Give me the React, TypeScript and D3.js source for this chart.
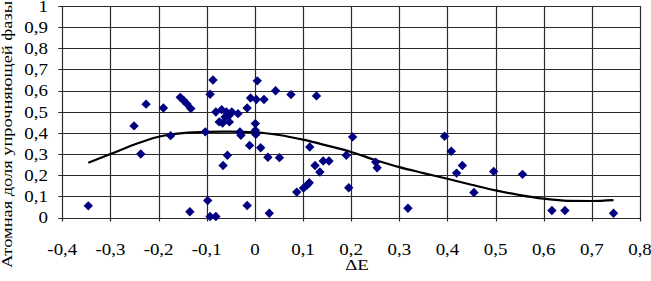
import React from "react";
import * as d3 from "d3";

const deltaE = [
  -0.346, -0.251, -0.237, -0.226, -0.19, -0.175, -0.155, -0.148, -0.141, -0.133,
  -0.135, -0.103, -0.098, -0.093, -0.081, -0.087, -0.093, -0.081, -0.069, -0.074,
  -0.067, -0.059, -0.053, -0.053, -0.062, -0.048, -0.035, -0.057, -0.066, -0.029,
  -0.031, -0.016, -0.009, 0.005, 0.003, 0.019, 0.001, 0.001, 0.002, -0.011,
  0.012, 0.027, 0.051, -0.016, 0.03, 0.043, 0.075, 0.128, 0.087, 0.101,
  0.108, 0.113, 0.114, 0.125, 0.135, 0.142, 0.154, 0.203, 0.19, 0.195,
  0.251, 0.254, 0.318, 0.394, 0.408, 0.431, 0.419, 0.455, 0.496, 0.556,
  0.617, 0.644, 0.745,
];
const fraction = [
  0.055, 0.433, 0.3, 0.536, 0.518, 0.387, 0.568, 0.553, 0.537, 0.515,
  0.027, 0.405, 0.08, 0.005, 0.005, 0.65, 0.583, 0.499, 0.51, 0.452,
  0.447, 0.499, 0.483, 0.452, 0.475, 0.499, 0.491, 0.294, 0.246, 0.389,
  0.404, 0.518, 0.565, 0.646, 0.558, 0.558, 0.444, 0.412, 0.393, 0.341,
  0.33, 0.285, 0.283, 0.057, 0.02, 0.599, 0.581, 0.575, 0.12, 0.139,
  0.152, 0.164, 0.333, 0.246, 0.215, 0.267, 0.267, 0.381, 0.294, 0.141,
  0.262, 0.235, 0.044, 0.384, 0.313, 0.246, 0.21, 0.118, 0.218, 0.204,
  0.033, 0.033, 0.02,
];

const trendX = [
  -0.346, -0.3, -0.25, -0.2, -0.15, -0.1, -0.05, 0, 0.05, 0.1, 0.15, 0.2,
  0.25, 0.3, 0.35, 0.4, 0.45, 0.5, 0.55, 0.6, 0.65, 0.7, 0.745,
];
const trendY = [
  0.259, 0.3, 0.345, 0.382, 0.399, 0.405, 0.406, 0.403, 0.39, 0.368, 0.34, 0.31,
  0.272, 0.238, 0.21, 0.183, 0.155, 0.128, 0.106, 0.089, 0.079, 0.078, 0.082,
];

const xTicks = [-0.4, -0.3, -0.2, -0.1, 0, 0.1, 0.2, 0.3, 0.4, 0.5, 0.6, 0.7, 0.8];
const xTickLabels = ["-0,4", "-0,3", "-0,2", "-0,1", "0", "0,1", "0,2", "0,3", "0,4", "0,5", "0,6", "0,7", "0,8"];
const yTicks = [0, 0.1, 0.2, 0.3, 0.4, 0.5, 0.6, 0.7, 0.8, 0.9, 1];
const yTickLabels = ["0", "0,1", "0,2", "0,3", "0,4", "0,5", "0,6", "0,7", "0,8", "0,9", "1"];

const xTitle = "ΔE";
const yTitle = "Атомная доля упрочняющей фазы";

export default function App() {
  const W = 651;
  const H = 281;
  const x = d3.scaleLinear().domain([-0.4, 0.8]).range([62.3, 640]);
  const y = d3.scaleLinear().domain([0, 1]).range([217.5, 6]);
  const font = '"Liberation Serif", "Times New Roman", Times, serif';

  const trendPts: [number, number][] = trendX.map((v, i) => [v, trendY[i]]);
  const line = d3
    .line<[number, number]>()
    .x((d) => x(d[0]))
    .y((d) => y(d[1]))
    .curve(d3.curveMonotoneX);

  const diamond = (cx: number, cy: number, r: number) =>
    `M${cx},${cy - r}L${cx + r},${cy}L${cx},${cy + r}L${cx - r},${cy}Z`;

  const [x0, x1] = x.range();
  const [y0, y1] = y.range();
  const ts = { fontFamily: font };

  return (
    <svg
      width={W}
      height={H}
      style={{ position: "absolute", left: 0, top: 0, background: "#fff", fontFamily: font }}
    >
      <rect x={0} y={0} width={W} height={H} fill="#fff" />
      {yTicks.map((t) => (
        <line
          key={"h" + t}
          x1={x0 - 4}
          x2={x1}
          y1={Math.round(y(t)) + 0.5}
          y2={Math.round(y(t)) + 0.5}
          stroke="#2a2a2a"
          strokeWidth={1.2}
        />
      ))}
      {xTicks.map((t) => (
        <line
          key={"v" + t}
          x1={Math.round(x(t)) + 0.5}
          x2={Math.round(x(t)) + 0.5}
          y1={y1}
          y2={y0 + 4}
          stroke="#2a2a2a"
          strokeWidth={1.2}
        />
      ))}
      {yTicks.map((t, i) => (
        <g key={"yl" + t} transform={`translate(48,${y(t) + 5.8}) scale(1.15,1)`}>
          <text textAnchor="end" fontSize={16.5} fill="#000" style={ts}>
            {yTickLabels[i]}
          </text>
        </g>
      ))}
      {xTicks.map((t, i) => (
        <g key={"xl" + t} transform={`translate(${x(t)},254.5) scale(1.08,1)`}>
          <text textAnchor="middle" fontSize={17.5} fill="#000" style={ts}>
            {xTickLabels[i]}
          </text>
        </g>
      ))}
      <g transform="translate(357,269.5) scale(1.22,1)">
        <text textAnchor="middle" fontSize={15.5} fill="#000" style={ts}>
          {xTitle}
        </text>
      </g>
      <text
        transform="translate(11.5,268) rotate(-90)"
        fontSize={15}
        fill="#000"
        textLength={267}
        lengthAdjust="spacingAndGlyphs"
        style={ts}
      >
        {yTitle}
      </text>
      <path d={line(trendPts) || ""} fill="none" stroke="#000" strokeWidth={2.2} />
      {deltaE.map((v, i) => (
        <path key={"p" + i} d={diamond(x(v), y(fraction[i]), 4.7)} fill="#000080" />
      ))}
    </svg>
  );
}
